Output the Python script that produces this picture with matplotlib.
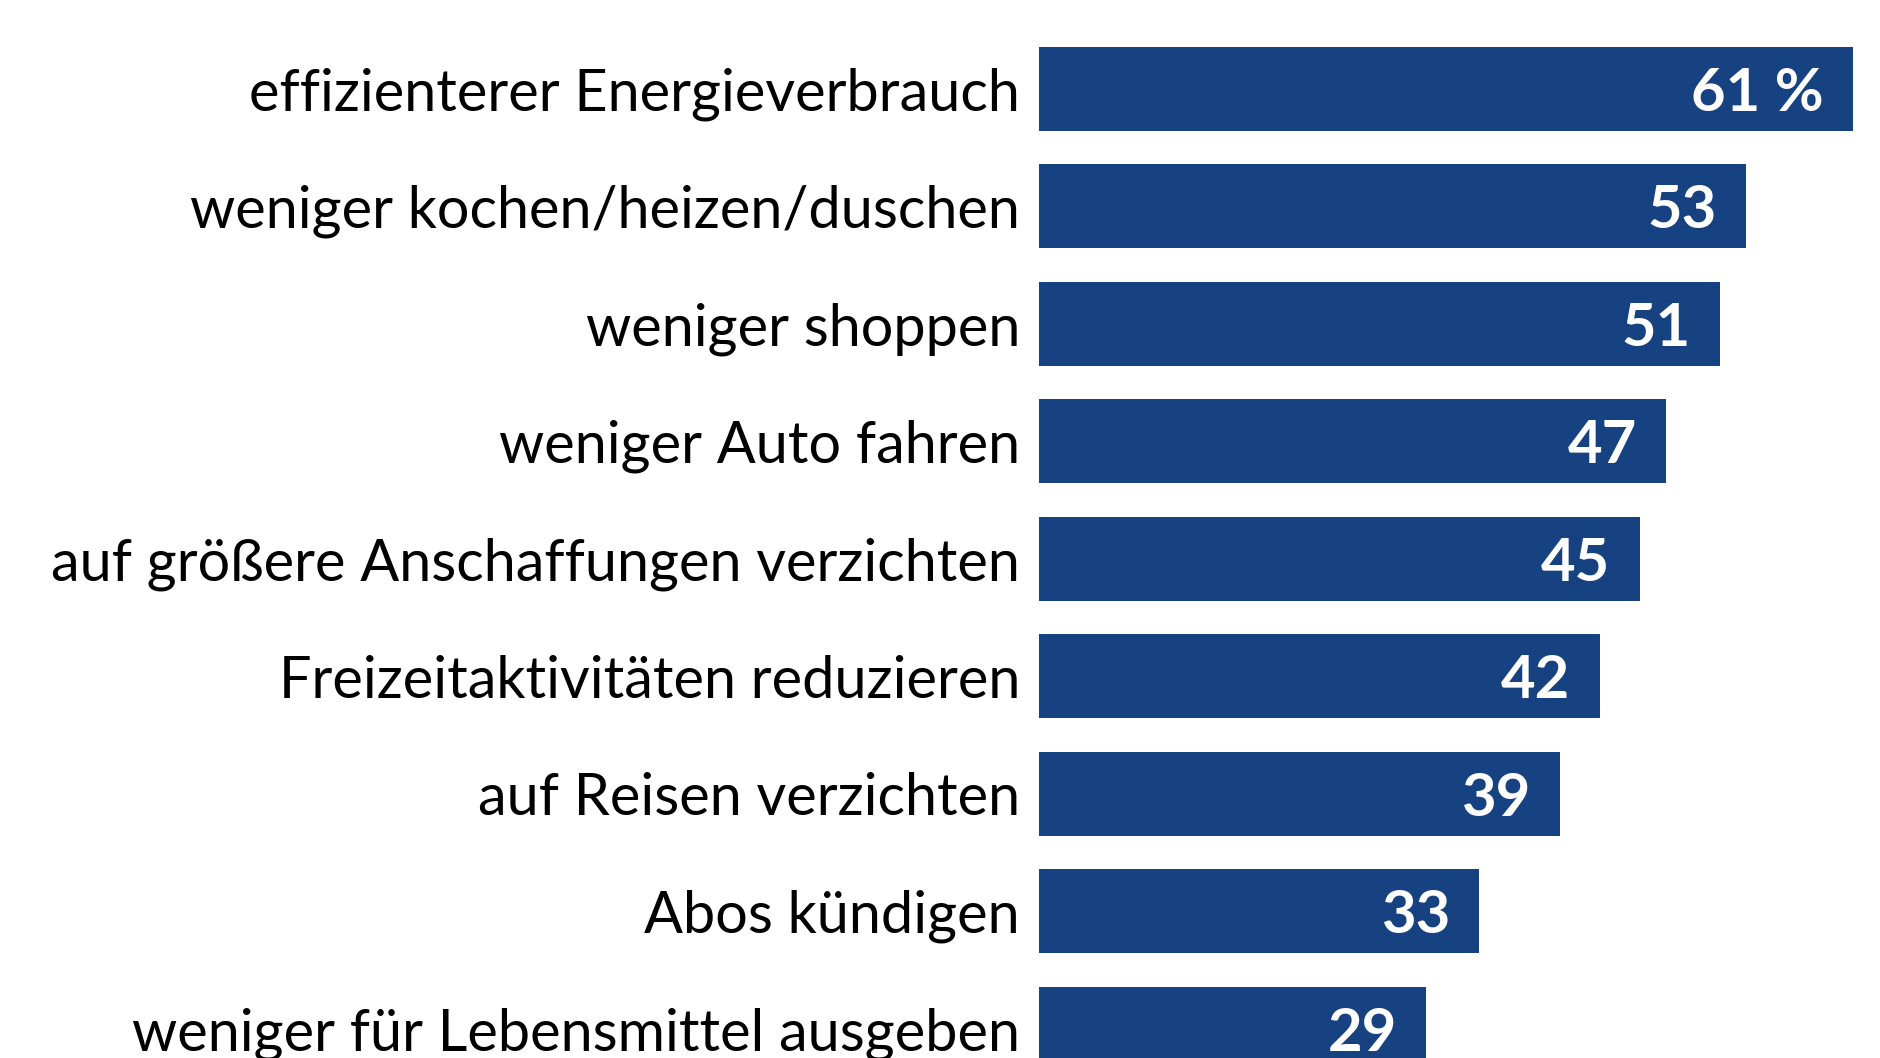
import matplotlib
matplotlib.use("Agg")
import matplotlib.pyplot as plt

# Werte aus der Grafik (Anteil in %)
kategorien = [
    "effizienterer Energieverbrauch",
    "weniger kochen/heizen/duschen",
    "weniger shoppen",
    "weniger Auto fahren",
    "auf größere Anschaffungen verzichten",
    "Freizeitaktivitäten reduzieren",
    "auf Reisen verzichten",
    "Abos kündigen",
    "weniger für Lebensmittel ausgeben",
]
werte = [61, 53, 51, 47, 45, 42, 39, 33, 29]
wert_labels = ["61 %", "53", "51", "47", "45", "42", "39", "33", "29"]

blau = "#174282"
schrift = ["Lato", "DejaVu Sans"]

fig = plt.figure(figsize=(18.8, 10.58), dpi=100)
ax = fig.add_axes([0, 0, 1, 1])

pos = list(range(len(werte)))
ax.barh(pos, werte, height=0.715, color=blau, left=0)

for i, (k, w, lab) in enumerate(zip(kategorien, werte, wert_labels)):
    ax.text(-1.4, i, k, ha="right", va="center_baseline",
            fontsize=41.5, family=schrift, color="black")
    ax.text(w - 2.2, i, lab, ha="right", va="center_baseline",
            fontsize=43, family=schrift, fontweight="bold", color="white")

ax.set_xlim(-77.8, 63.0)
ax.set_ylim(8.247, -0.757)
ax.axis("off")

fig.savefig("out.png", dpi=100, facecolor="white")
